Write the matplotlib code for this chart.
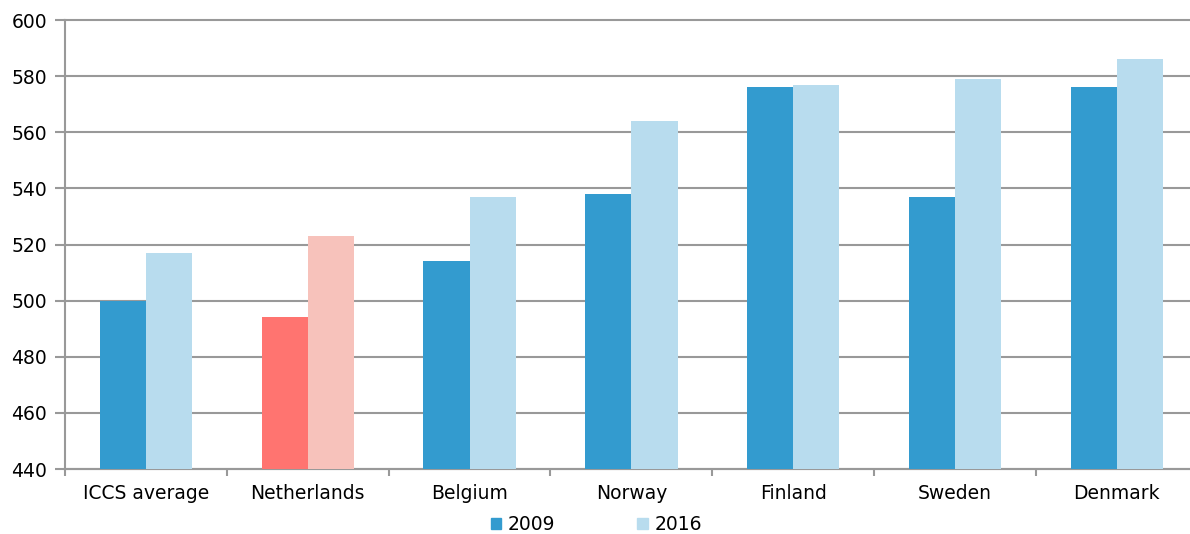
import matplotlib
matplotlib.use('Agg')
import matplotlib.pyplot as plt
from matplotlib.patches import Patch
import numpy as np

countries = ['ICCS average', 'Netherlands', 'Belgium', 'Norway',
             'Finland', 'Sweden', 'Denmark']
scores_2009 = [500, 494, 514, 538, 576, 537, 576]
scores_2016 = [517, 523, 537, 564, 577, 579, 586]

dark_blue = '#339BCF'
light_blue = '#B8DCEE'
dark_red = '#FF7470'
light_red = '#F7C2BB'
grid_col = '#999999'

plt.rcParams['font.family'] = ['DejaVu Sans']
plt.rcParams['font.size'] = 13.5

fig = plt.figure(figsize=(11.9, 5.34), dpi=100)
# axes runs a little past the right edge, as in the original
ax = fig.add_axes([0.0546, 0.1217, 0.952, 0.8408])

x = np.arange(len(countries))
w = 0.285
c09 = [dark_red if c == 'Netherlands' else dark_blue for c in countries]
c16 = [light_red if c == 'Netherlands' else light_blue for c in countries]
ax.bar(x - w / 2, np.array(scores_2009) - 440, w, bottom=440, color=c09, zorder=3)
ax.bar(x + w / 2, np.array(scores_2016) - 440, w, bottom=440, color=c16, zorder=3)

ax.set_ylim(440, 600)
ax.set_xlim(-0.5, len(countries) - 0.5)
ax.set_yticks(range(440, 601, 20))
ax.yaxis.grid(True, color=grid_col, linewidth=1.5, zorder=0)
for gl in ax.get_ygridlines():
    gl.set_clip_on(False)  # keep the 600 line full width

ax.set_xticks(x)
ax.set_xticklabels(countries)
ax.set_xticks(np.arange(-0.5, len(countries)), minor=True)
ax.tick_params(axis='x', which='major', length=0, pad=11)
ax.tick_params(axis='x', which='minor', length=5, width=1.5, color=grid_col)
ax.tick_params(axis='y', length=7, width=1.5, color=grid_col, pad=6)

for s in ['top', 'right']:
    ax.spines[s].set_visible(False)
for s in ['left', 'bottom']:
    ax.spines[s].set_color(grid_col)
    ax.spines[s].set_linewidth(1.5)

handles = [Patch(color=dark_blue, label='2009'), Patch(color=light_blue, label='2016')]
fig.legend(handles=handles, loc='center', bbox_to_anchor=(0.501, 0.018), ncol=2,
           frameon=False, handlelength=0.55, handleheight=0.55, handletextpad=0.35,
           columnspacing=4.4, fontsize=13.5)

fig.savefig('out.png', dpi=100)
